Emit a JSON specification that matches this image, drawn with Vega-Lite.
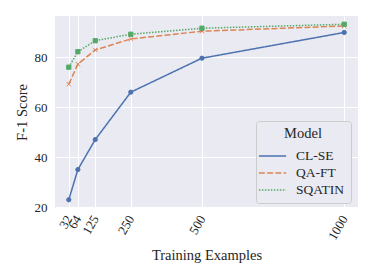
{
  "$schema": "https://vega.github.io/schema/vega-lite/v6.json",
  "width": 303,
  "height": 192,
  "autosize": {"type": "none"},
  "padding": {"left": 55, "top": 16, "right": 16, "bottom": 72},
  "background": "white",
  "config": {
    "font": "Liberation Serif",
    "view": {"fill": "#eaeaf2", "stroke": null},
    "axis": {
      "domain": false,
      "ticks": false,
      "gridColor": "white",
      "gridWidth": 1,
      "labelFont": "Liberation Serif",
      "titleFont": "Liberation Serif",
      "labelFontSize": 13,
      "titleFontSize": 14.5,
      "labelColor": "#262626",
      "titleColor": "#262626",
      "titleFontWeight": "normal"
    },
    "legend": {
      "labelFont": "Liberation Serif",
      "titleFont": "Liberation Serif",
      "orient": "none",
      "legendX": 201,
      "legendY": 105,
      "titleFontSize": 14.5,
      "titleFontWeight": "normal",
      "titleColor": "#262626",
      "titleAnchor": "middle",
      "titlePadding": 4,
      "labelFontSize": 13.5,
      "labelColor": "#262626",
      "labelOffset": 13,
      "symbolType": "M-1.4,0L1.4,0",
      "symbolSize": 380,
      "symbolStrokeWidth": 1.5,
      "symbolFillColor": "transparent",
      "rowPadding": 0,
      "padding": 6,
      "fillColor": "#eaeaf2",
      "strokeColor": "#cccccc",
      "cornerRadius": 3
    }
  },
  "data": {
    "values": [
      {"n": 32, "f1": 22.9, "model": "CL-SE"},
      {"n": 64, "f1": 35.0, "model": "CL-SE"},
      {"n": 125, "f1": 47.0, "model": "CL-SE"},
      {"n": 250, "f1": 66.0, "model": "CL-SE"},
      {"n": 500, "f1": 79.6, "model": "CL-SE"},
      {"n": 1000, "f1": 89.9, "model": "CL-SE"},
      {"n": 32, "f1": 69.2, "model": "QA-FT"},
      {"n": 64, "f1": 77.2, "model": "QA-FT"},
      {"n": 125, "f1": 82.9, "model": "QA-FT"},
      {"n": 250, "f1": 87.3, "model": "QA-FT"},
      {"n": 500, "f1": 90.4, "model": "QA-FT"},
      {"n": 1000, "f1": 92.5, "model": "QA-FT"},
      {"n": 32, "f1": 76.0, "model": "SQATIN"},
      {"n": 64, "f1": 82.2, "model": "SQATIN"},
      {"n": 125, "f1": 86.6, "model": "SQATIN"},
      {"n": 250, "f1": 89.2, "model": "SQATIN"},
      {"n": 500, "f1": 91.6, "model": "SQATIN"},
      {"n": 1000, "f1": 93.2, "model": "SQATIN"}
    ]
  },
  "encoding": {
    "x": {
      "field": "n",
      "type": "quantitative",
      "scale": {"domain": [-16.4, 1048.4], "nice": false, "zero": false},
      "axis": {
        "values": [32, 64, 125, 250, 500, 1000],
        "format": "d",
        "labelAngle": -60,
        "labelOverlap": false,
        "labelPadding": 8,
        "title": "Training Examples",
        "titlePadding": 6
      }
    },
    "y": {
      "field": "f1",
      "type": "quantitative",
      "scale": {"domain": [19.6, 96.5], "nice": false, "zero": false},
      "axis": {
        "values": [20, 40, 60, 80],
        "labelPadding": 8,
        "title": "F-1 Score",
        "titlePadding": 5
      }
    }
  },
  "layer": [
    {
      "mark": {"type": "line", "strokeWidth": 1.5},
      "encoding": {
        "color": {
          "field": "model",
          "type": "nominal",
          "scale": {"range": ["#4c72b0", "#dd8452", "#55a868"]},
          "title": "Model"
        },
        "strokeDash": {
          "field": "model",
          "type": "nominal",
          "scale": {"range": [[1, 0], [6, 2.25], [1.5, 1.5]]},
          "title": "Model"
        }
      }
    },
    {
      "mark": {"type": "point", "filled": true, "size": 18, "strokeWidth": 1, "opacity": 1},
      "encoding": {
        "fill": {
          "field": "model",
          "type": "nominal",
          "scale": {"range": ["#4c72b0", "#dd8452", "#55a868"]},
          "legend": null
        },
        "stroke": {
          "field": "model",
          "type": "nominal",
          "scale": {"range": ["#4c72b0", "#dd8452", "#55a868"]},
          "legend": null
        },
        "shape": {
          "field": "model",
          "type": "nominal",
          "scale": {"range": ["circle", "M-1,-1L1,1M1,-1L-1,1", "square"]},
          "legend": null
        }
      }
    }
  ]
}
